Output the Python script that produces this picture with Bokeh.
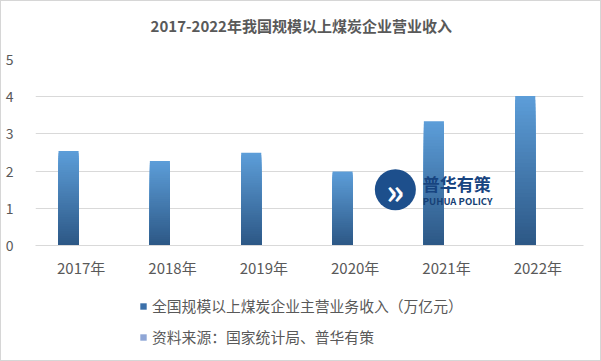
from bokeh.plotting import figure
from bokeh.layouts import column
from bokeh.models import (ColumnDataSource, FactorRange, SingleIntervalTicker,
                          Legend, LegendItem)
from bokeh.transform import dodge
from bokeh.core.properties import value
from bokeh.embed import file_html
from bokeh.resources import INLINE

# ---- data ----
years = ["2017年", "2018年", "2019年", "2020年", "2021年", "2022年"]
revenue = [2.54, 2.27, 2.49, 1.99, 3.34, 4.02]
y_ticks = [0, 1, 2, 3, 4, 5]
title_text = "2017-2022年我国规模以上煤炭企业营业收入"
series_name = "全国规模以上煤炭企业主营业务收入（万亿元）"
source_note = "资料来源：国家统计局、普华有策"

FONT = "Noto Sans CJK SC"
TXT = "#595959"
GRID = "#d9d9d9"


def blank(h):
    f = figure(width=599, height=h, output_backend="svg", toolbar_location=None,
               x_range=(0, 1), y_range=(0, 1), min_border=0,
               x_axis_type=None, y_axis_type=None)
    f.outline_line_color = None
    f.grid.visible = False
    f.background_fill_color = "white"
    f.border_fill_color = "white"
    return f


# title panel
p0 = blank(48)
p0.text(x=[0.485], y=[0.5], text=[title_text], text_font=value(FONT),
        text_font_size="15px", text_font_style="bold", text_color=TXT,
        text_align="center", text_baseline="middle")

# main chart
p = figure(width=599, height=231, x_range=FactorRange(factors=years),
           y_range=(0, 5), output_backend="svg", toolbar_location=None,
           min_border_left=34, min_border_right=17, min_border_top=10,
           min_border_bottom=34)
p.outline_line_color = None
p.background_fill_color = "white"
p.border_fill_color = "white"

# gradient bars: overlapping bars from full height (light) down to short (dark)
N = 40
top_rgb = (92, 157, 216)
bot_rgb = (45, 88, 134)
xs, tops, cols = [], [], []
for i in range(N):
    t = 1 - i / (N - 1)
    c = tuple(int(round(bot_rgb[k] + (top_rgb[k] - bot_rgb[k]) * t)) for k in range(3))
    for yr, v in zip(years, revenue):
        xs.append(yr)
        tops.append(v * (N - i) / N)
        cols.append("#%02x%02x%02x" % c)
src = ColumnDataSource(dict(year=xs, top=tops, color=cols))
p.vbar(x=dodge("year", -0.138, range=p.x_range), bottom=0, top="top",
       width=0.22, fill_color="color", line_color=None, source=src)

# axes
p.yaxis.ticker = SingleIntervalTicker(interval=1)
p.yaxis.axis_line_color = None
p.yaxis.major_tick_line_color = None
p.yaxis.minor_tick_line_color = None
p.yaxis.major_label_standoff = 16
p.yaxis.major_label_text_font = FONT
p.yaxis.major_label_text_font_size = "14px"
p.yaxis.major_label_text_color = TXT

p.xaxis.axis_line_color = GRID
p.xaxis.major_tick_line_color = None
p.xaxis.minor_tick_line_color = None
p.xaxis.major_label_standoff = 5
p.xaxis.major_label_text_font = FONT
p.xaxis.major_label_text_font_size = "15px"
p.xaxis.major_label_text_color = TXT

p.xgrid.grid_line_color = None
p.ygrid.grid_line_color = GRID
p.ygrid.grid_line_width = 1

# watermark logo
p.scatter(x=[3.94], y=[1.50], size=41, marker="circle", fill_color="#1d4f8c",
          line_color=None)
p.text(x=[3.94], y=[1.50], text=["»"], text_font=value(FONT), text_font_size="34px",
       text_font_style="bold", text_color="white", text_align="center",
       text_baseline="middle")
p.text(x=[4.24], y=[1.66], text=["普华有策"], text_font=value(FONT),
       text_font_size="17px", text_font_style="bold", text_color="#174480",
       text_align="left", text_baseline="middle")
p.text(x=[4.24], y=[1.20], text=["PUHUA POLICY"], text_font=value(FONT),
       text_font_size="9.5px", text_font_style="bold", text_color="#163f75",
       text_align="left", text_baseline="middle")

# legend panel
p2 = blank(80)
r1 = p2.vbar(x=[-5], top=[-5], bottom=[-6], width=0.2, fill_color="#3b70aa", line_color=None)
r2 = p2.vbar(x=[-5], top=[-5], bottom=[-6], width=0.2, fill_color="#8fa6d6", line_color=None)
legend = Legend(items=[LegendItem(label=series_name, renderers=[r1]),
                       LegendItem(label=source_note, renderers=[r2])],
                location=(104, 13), orientation="vertical",
                glyph_width=8, glyph_height=8, label_standoff=5,
                label_height=20, spacing=10, padding=0, margin=0,
                border_line_color=None, background_fill_alpha=0,
                label_text_font=FONT, label_text_font_size="14.8px",
                label_text_color=TXT)
p2.add_layout(legend, "center")

layout = column(p0, p, p2, spacing=0)
layout.styles = {"border": "1px solid #d6d6d6"}

open("out.html", "w").write(file_html(layout, INLINE))
